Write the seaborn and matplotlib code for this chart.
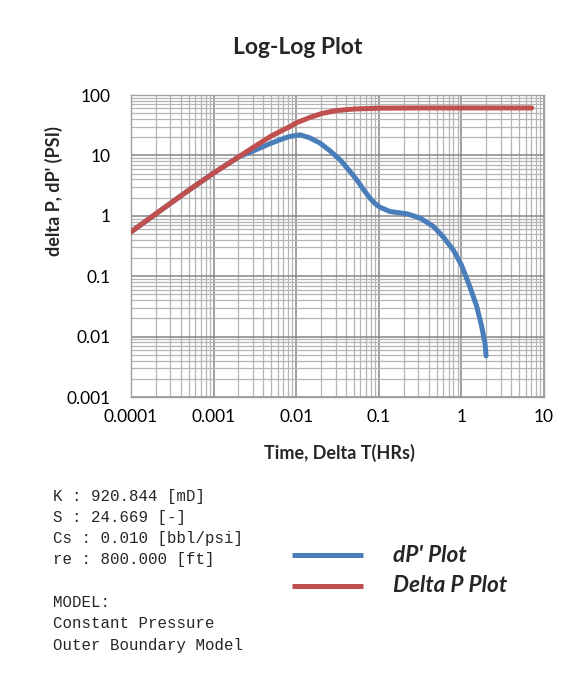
import matplotlib
matplotlib.use("Agg")
import matplotlib.pyplot as plt
import matplotlib.ticker as mticker
import seaborn as sns
import pandas as pd

# ---- data ----
t_dp = [1e-4, 2e-4, 5e-4, 1e-3, 2e-3, 3e-3, 5e-3, 7e-3, 8.4e-3, 1e-2, 1.5e-2,
        2e-2, 3e-2, 5e-2, 0.1, 0.3, 1.0, 7.1]
dp = [0.54, 1.08, 2.65, 5.1, 9.4, 13.5, 21.0, 26.5, 30.0, 34.5, 43.0,
      49.0, 55.0, 58.6, 60.5, 61.0, 61.0, 61.0]

t_der = [1e-4, 2e-4, 5e-4, 1e-3, 2e-3, 3e-3, 5e-3, 7e-3, 0.0084, 0.0111,
         0.0145, 0.0194, 0.0255, 0.0339, 0.043, 0.054, 0.065, 0.078, 0.09,
         0.103, 0.136, 0.218, 0.315, 0.457, 0.60, 0.80, 1.0, 1.26, 1.53,
         1.76, 1.93, 1.99]
der = [0.54, 1.08, 2.65, 5.1, 9.4, 11.8, 16.0, 19.0, 20.6, 21.9,
       19.6, 16.0, 12.0, 8.5, 5.8, 3.95, 2.75, 1.96, 1.6,
       1.39, 1.18, 1.08, 0.92, 0.67, 0.45, 0.27, 0.154, 0.068, 0.032,
       0.0147, 0.0078, 0.0048]

x_ticks = [1e-4, 1e-3, 1e-2, 1e-1, 1, 10]
x_labels = ["0.0001", "0.001", "0.01", "0.1", "1", "10"]
y_ticks = [1e-3, 1e-2, 1e-1, 1, 10, 100]
y_labels = ["0.001", "0.01", "0.1", "1", "10", "100"]

info_lines = ["K : 920.844 [mD]", "S : 24.669 [-]", "Cs : 0.010 [bbl/psi]",
              "re : 800.000 [ft]", "", "MODEL:", "Constant Pressure",
              "Outer Boundary Model"]
series_names = ["dP' Plot", "Delta P Plot"]

# ---- plotting ----
sns.set_style("white")
plt.rcParams["font.family"] = ["Lato", "DejaVu Sans"]

BLUE = "#4a7ebb"
RED = "#c0504d"

W, H = 583, 679
fig = plt.figure(figsize=(W / 100, H / 100), dpi=100)
ax = fig.add_axes([131 / W, 1 - 397 / H, 413 / W, 302 / H])

df_der = pd.DataFrame({"t": t_der, "v": der})
df_dp = pd.DataFrame({"t": t_dp, "v": dp})
sns.lineplot(data=df_der, x="t", y="v", ax=ax, color=BLUE, lw=3.6,
             solid_capstyle="round", zorder=3)
sns.lineplot(data=df_dp, x="t", y="v", ax=ax, color=RED, lw=3.6,
             solid_capstyle="round", zorder=4)

ax.set_xscale("log")
ax.set_yscale("log")
ax.set_xlim(1e-4, 10)
ax.set_ylim(1e-3, 100)
ax.xaxis.set_major_locator(mticker.FixedLocator(x_ticks))
ax.xaxis.set_major_formatter(mticker.FixedFormatter(x_labels))
ax.yaxis.set_major_locator(mticker.FixedLocator(y_ticks))
ax.yaxis.set_major_formatter(mticker.FixedFormatter(y_labels))
ax.xaxis.set_minor_locator(mticker.LogLocator(base=10, subs=range(2, 10), numticks=20))
ax.yaxis.set_minor_locator(mticker.LogLocator(base=10, subs=range(2, 10), numticks=20))
ax.xaxis.set_minor_formatter(mticker.NullFormatter())
ax.yaxis.set_minor_formatter(mticker.NullFormatter())

ax.grid(True, which="major", color="#858585", lw=1.1, zorder=0)
ax.grid(True, which="minor", color="#b5b5b5", lw=0.9, zorder=0)
ax.set_axisbelow(True)
for s in ax.spines.values():
    s.set_color("#a0a0a0")
    s.set_linewidth(1)
ax.tick_params(which="both", length=0, labelsize=12.5, colors="black")
ax.tick_params(axis="y", pad=14.5)
ax.tick_params(axis="x", pad=9)

ax.set_xlabel("Time, Delta T(HRs)", fontsize=13, fontweight="bold")
ax.xaxis.label.set_va("center")
ax.xaxis.set_label_coords((339 - 131) / 413, -(453 - 397) / 302)
ax.set_ylabel("delta P, dP' (PSI)", fontsize=13, fontweight="bold")
ax.yaxis.label.set_va("center")
ax.yaxis.set_label_coords((54 - 131) / 413, (397 - 191.5) / 302)

fig.text(298 / W, 1 - 47.5 / H, "Log-Log Plot", ha="center", va="center",
         fontsize=16.5, fontweight="bold")

# info text block
y0 = 1 - 496 / H
step = 21.3 / H
for i, line in enumerate(info_lines):
    fig.text(53 / W, y0 - i * step, line, ha="left", va="center",
             fontsize=11.3, family=["Liberation Mono", "DejaVu Sans Mono"])

# legend
for name, col, ypx in [(series_names[0], BLUE, 555), (series_names[1], RED, 586)]:
    yy = 1 - ypx / H
    fig.add_artist(plt.Line2D([292 / W, 363 / W], [yy, yy], color=col,
                              lw=3.6, solid_capstyle="butt", transform=fig.transFigure))
    fig.text(393 / W, yy, name, ha="left", va="center", fontsize=16.3,
             fontweight="bold", fontstyle="italic")

fig.savefig("out.png", dpi=100)
